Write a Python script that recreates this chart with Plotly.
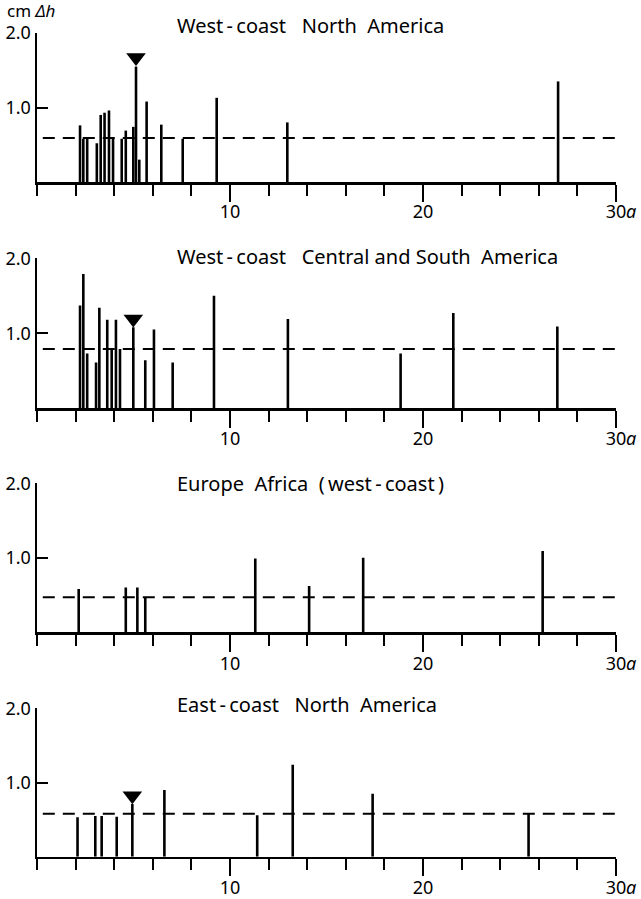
import plotly.graph_objects as go

# ---- data (periods in years, amplitudes in cm) ----
titles = [
    "West\u2009-\u2009coast\u00a0\u00a0 North\u00a0 America",
    "West\u2009-\u2009coast\u00a0\u00a0 Central\u00a0and\u00a0South\u00a0 America",
    "Europe\u00a0 Africa\u00a0 (\u2009west\u2009-\u2009coast\u2009)",
    "East\u2009-\u2009coast\u00a0\u00a0 North\u00a0 America",
]

p1_period = [2.23, 2.4, 2.6, 3.1, 3.3, 3.5, 3.73, 3.94, 4.39, 4.6, 4.99, 5.13, 5.3, 5.68, 6.44, 7.55, 9.31, 12.97, 27.0]
p1_amp    = [0.76, 0.58, 0.58, 0.52, 0.9, 0.93, 0.96, 0.58, 0.58, 0.69, 0.74, 1.55, 0.3, 1.08, 0.77, 0.58, 1.13, 0.8, 1.35]
p1_level = 0.59
p1_mark_x = [5.13]
p1_mark_y = [1.67]

p2_period = [2.23, 2.4, 2.6, 3.06, 3.23, 3.64, 3.87, 4.09, 4.3, 4.99, 5.61, 6.06, 7.03, 9.17, 13.0, 18.84, 21.57, 26.96]
p2_amp    = [1.37, 1.79, 0.73, 0.61, 1.34, 1.18, 0.79, 1.18, 0.79, 1.08, 0.64, 1.05, 0.61, 1.5, 1.19, 0.73, 1.27, 1.09]
p2_level = 0.79
p2_mark_x = [4.99]
p2_mark_y = [1.19]

p3_period = [2.16, 4.6, 5.2, 5.61, 11.31, 14.1, 16.9, 26.2]
p3_amp    = [0.58, 0.6, 0.6, 0.47, 0.99, 0.62, 1.0, 1.09]
p3_level = 0.47
p3_mark_x = []
p3_mark_y = []

p4_period = [2.1, 3.02, 3.35, 4.13, 4.94, 6.6, 11.41, 13.25, 17.39, 25.47]
p4_amp    = [0.53, 0.55, 0.55, 0.54, 0.71, 0.9, 0.56, 1.24, 0.85, 0.58]
p4_level = 0.58
p4_mark_x = [4.94]
p4_mark_y = [0.82]

x_tickvals = [10, 20, 30]
x_ticktext = ["10", "20", "30"]
y_tickvals = [1.0, 2.0]
y_ticktext = ["1.0", "2.0"]

panels = [
    (p1_period, p1_amp, p1_level, p1_mark_x, p1_mark_y),
    (p2_period, p2_amp, p2_level, p2_mark_x, p2_mark_y),
    (p3_period, p3_amp, p3_level, p3_mark_x, p3_mark_y),
    (p4_period, p4_amp, p4_level, p4_mark_x, p4_mark_y),
]

# ---- layout geometry (page pixels; body margin reset to 0) ----
W, H = 641, 899
ML, MR = 37, 25
tops = [33, 258.3, 483.3, 708.3]
bots = [182, 408.3, 632.3, 856.7]
title_y = [25, 256, 483, 704]
label_dy = [29, 30, 31, 30]
PW = W - ML - MR

FONT = "Noto Sans"
TFS = 20
fig = go.Figure()

layout = dict(
    width=W, height=H,
    margin=dict(l=ML, r=MR, t=0, b=0, autoexpand=False),
    paper_bgcolor="white", plot_bgcolor="white",
    showlegend=False,
    font=dict(family=FONT, size=18, color="black"),
)
annotations = []

for i, (per, amp, lev, mx, my) in enumerate(panels):
    n = i + 1
    xa = "x" if n == 1 else f"x{n}"
    ya = "y" if n == 1 else f"y{n}"
    xs, ys = [], []
    for p, a in zip(per, amp):
        xs += [p, p, None]
        ys += [0, a, None]
    fig.add_trace(go.Scatter(x=xs, y=ys, mode="lines",
                             line=dict(color="black", width=2.6),
                             xaxis=xa, yaxis=ya, hoverinfo="skip"))
    fig.add_trace(go.Scatter(x=[0.3, 30], y=[lev, lev], mode="lines",
                             line=dict(color="black", width=2, dash="12px,8px"),
                             xaxis=xa, yaxis=ya, hoverinfo="skip"))
    if mx:
        fig.add_trace(go.Scatter(x=mx, y=my, mode="markers",
                                 marker=dict(symbol="triangle-down", size=17, color="black"),
                                 xaxis=xa, yaxis=ya, cliponaxis=False, hoverinfo="skip"))
    dom = [1 - bots[i] / H, 1 - tops[i] / H]
    kx = "xaxis" if n == 1 else f"xaxis{n}"
    ky = "yaxis" if n == 1 else f"yaxis{n}"
    layout[kx] = dict(
        domain=[0, 1], anchor=ya, range=[0, 30], automargin=False,
        showgrid=False, zeroline=False,
        showline=True, linecolor="black", linewidth=2.5,
        tickmode="array", tickvals=x_tickvals, ticktext=x_ticktext,
        ticks="outside", ticklen=17, tickwidth=2, tickcolor="black",
        ticklabelstandoff=-5 + (label_dy[i] - 29),
        minor=dict(tickmode="linear", tick0=0, dtick=2, ticks="outside",
                   ticklen=11, tickwidth=2, tickcolor="black", showgrid=False),
        tickfont=dict(family=FONT, size=18),
        fixedrange=True,
    )
    layout[ky] = dict(
        domain=dom, anchor=xa, range=[0, 2.0], automargin=False,
        showgrid=False, zeroline=False,
        showline=True, linecolor="black", linewidth=2.5,
        tickmode="array", tickvals=y_tickvals, ticktext=y_ticktext,
        ticks="inside", ticklen=11, tickwidth=2, tickcolor="black",
        tickfont=dict(family=FONT, size=18),
        fixedrange=True,
    )
    annotations.append(dict(
        text=titles[i], xref="paper", yref="paper",
        x=(175 - ML) / PW, y=1 - title_y[i] / H,
        xanchor="left", yanchor="middle", showarrow=False,
        font=dict(family=FONT, size=TFS, color="black"),
    ))
    annotations.append(dict(
        text="<i>a</i>", xref=xa, yref="paper",
        x=30, y=1 - (bots[i] + label_dy[i]) / H, xanchor="left", yanchor="middle",
        xshift=8, showarrow=False,
        font=dict(family=FONT, size=18, color="black"),
    ))

annotations.append(dict(
    text="cm <i>\u0394h</i>", xref="paper", yref="paper",
    x=(5 - ML) / PW, y=1 - 10 / H,
    xanchor="left", yanchor="middle", showarrow=False,
    font=dict(family=FONT, size=17, color="black"),
))
layout["annotations"] = annotations
fig.update_layout(**layout)
fig.write_html("out.html",
               config={"displayModeBar": False, "staticPlot": True},
               post_script="document.body.style.margin='0px';document.body.style.overflow='hidden';")
